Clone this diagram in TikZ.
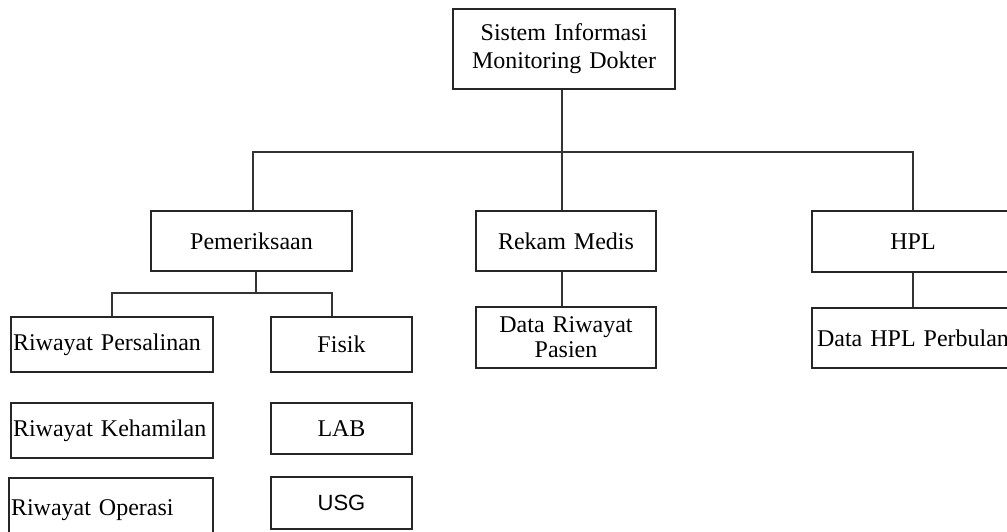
\documentclass[tikz,border=0pt]{standalone}
\usepackage{fontspec}
\setmainfont{Liberation Serif}
\newfontfamily\usgfont{Liberation Sans}
\begin{document}
\begin{tikzpicture}[x=1pt,y=1pt,
  box/.style={draw=black!85, line width=1.3pt, inner xsep=2pt, inner ysep=0pt,
    font=\fontsize{24}{28}\selectfont},
  conn/.style={draw=black!80, line width=1.3pt}]
\useasboundingbox (0,0) rectangle (1007,-531);
\clip (0,0) rectangle (1007,-531);
% top
\node[box, minimum width=222pt, minimum height=80pt, text width=218pt, align=center] (top) at (564,-49) {Sistem Informasi\\Monitoring Dokter};
% level 1
\node[box, minimum width=201pt, minimum height=60pt, text width=197pt, align=center] (pem) at (251.5,-241) {Pemeriksaan};
\node[box, minimum width=180pt, minimum height=60pt, text width=176pt, align=center] (rm) at (566,-241) {Rekam Medis};
\node[box, minimum width=202pt, minimum height=61pt, text width=198pt, align=center] (hpl) at (913,-241.5) {HPL};
% level 2
\node[box, minimum width=180pt, minimum height=61pt, text width=176pt, align=center, font=\fontsize{24}{25}\selectfont] (drp) at (566,-337.5) {Data Riwayat\\Pasien};
\node[box, minimum width=202pt, minimum height=60pt, text width=198pt, align=center] (dhpl) at (913,-338) {Data HPL Perbulan};
\node[box, minimum width=202pt, minimum height=55pt, text width=198pt, align=left] (rp) at (112,-344.5) {Riwayat Persalinan};
\node[box, minimum width=141pt, minimum height=55pt, text width=137pt, align=center] (fis) at (341.5,-344.5) {Fisik};
\node[box, minimum width=202pt, minimum height=55pt, text width=198pt, align=left] (rk) at (112,-430.5) {Riwayat Kehamilan};
\node[box, minimum width=141pt, minimum height=51pt, text width=137pt, align=center] (lab) at (341.5,-428.5) {LAB};
\node[box, minimum width=204pt, minimum height=64pt, text width=200pt, align=left] (ro) at (111,-510) {Riwayat Operasi};
\node[box, minimum width=141pt, minimum height=52pt, text width=137pt, align=center, font=\usgfont\fontsize{22}{26}\selectfont] (usg) at (341.5,-503) {USG};
% connectors
\coordinate (bus) at (562,-152);
\coordinate (sub) at (256,-293);
\draw[conn] ([xshift=-2pt]top.south) -- ([xshift=-2pt]top.south |- bus);
\draw[conn] ([xshift=1.5pt]pem.north) |- (bus) -| (hpl.north);
\draw[conn] ([xshift=-4pt]rm.north) -- ([xshift=-4pt]rm.north |- bus);
\draw[conn] ([xshift=4.5pt]pem.south) -- (sub);
\draw[conn] (rp.north) |- (sub) -| ([xshift=-9.5pt]fis.north);
\draw[conn] ([xshift=-4pt]rm.south) -- ([xshift=-4pt]drp.north);
\draw[conn] (hpl.south) -- (dhpl.north);
\end{tikzpicture}
\end{document}
